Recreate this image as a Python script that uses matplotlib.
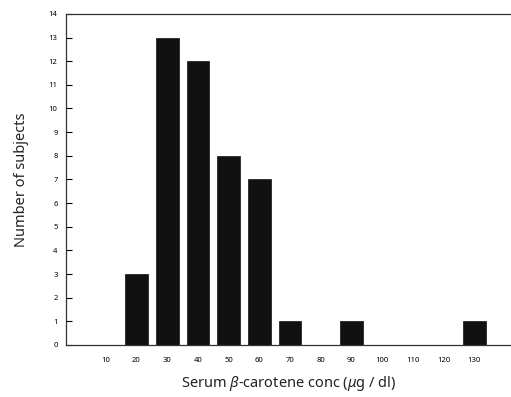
import matplotlib
matplotlib.use("Agg")
import matplotlib.pyplot as plt

conc = [10, 20, 30, 40, 50, 60, 70, 80, 90, 100, 110, 120, 130]
subjects = [0, 3, 13, 12, 8, 7, 1, 0, 1, 0, 0, 0, 1]
yticks = list(range(0, 15))

plt.rcParams['font.family'] = ['Noto Sans', 'DejaVu Sans']
plt.rcParams['mathtext.fontset'] = 'custom'
plt.rcParams['mathtext.rm'] = 'Noto Sans'
plt.rcParams['mathtext.it'] = 'Noto Sans:italic'

fig = plt.figure(figsize=(5.11, 3.97), dpi=100)
ax = fig.add_axes([0.129, 0.131, 0.871, 0.834])

ax.bar(conc, subjects, width=7.4, color='#111111', edgecolor='#111111', linewidth=0.5)

ax.set_xlim(-3, 142)
ax.set_ylim(0, 14)
ax.set_xticks(conc)
ax.set_xticklabels([str(c) for c in conc], fontsize=5.5)
ax.set_yticks(yticks)
ax.set_yticklabels([str(y) for y in yticks], fontsize=5.5)
ax.tick_params(axis='y', direction='in', length=4, width=0.8, pad=6)
ax.tick_params(axis='x', length=0, pad=9)

ax.spines['right'].set_visible(False)
for s in ['left', 'bottom', 'top']:
    ax.spines[s].set_linewidth(0.9)
    ax.spines[s].set_color('#333333')

ax.set_ylabel('Number of subjects', fontsize=10.5, color='#222222', labelpad=14)
ax.set_xlabel(r'Serum $\beta$-carotene conc ($\mu$g / dl)', fontsize=10.5,
              color='#222222', labelpad=7)

fig.savefig('out.png', dpi=100)
